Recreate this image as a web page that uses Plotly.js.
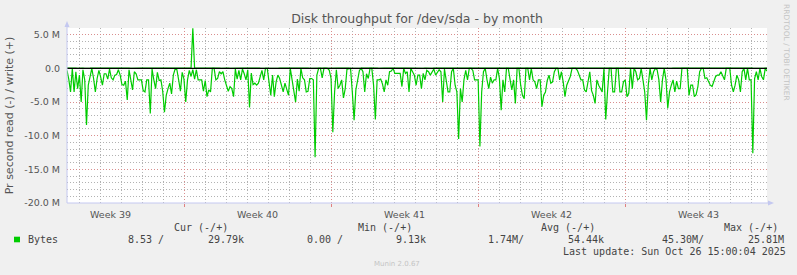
<!DOCTYPE html>
<html>
<head>
<meta charset="utf-8">
<script src="https://cdn.plot.ly/plotly-3.0.1.min.js"></script>
<style>html,body{margin:0;padding:0;background:#f0f0f0;}#chart{width:797px;height:275px;}</style>
</head>
<body>
<div id="chart"></div>
<script>
// ---- data (values in millions of bytes per second) ----
const rangeStart = '2025-09-23 10:15';
const rangeEnd = '2025-10-26 18:15';
const readValues = [
-0.3,-1.6,-3.5,0,-3.5,-0.5,-3.0,-1.0,-5.0,-0.2,
-1.7,-8.4,-2.5,-1.0,0,-1.5,-3.5,-1.5,-0.3,-1.3,
-2.5,-0.8,-0.8,-1.6,-0.1,-1.4,-1.7,-1.0,-0.9,-0.2,
-1.0,-2.4,-2.5,-1.9,-4.7,-0.2,-1.5,-3.2,-0.5,-0.8,
-1.7,-1.7,-1.7,-3.3,-3.5,-1.7,-1.7,-6.7,-0.1,-1.7,
-3.0,-0.6,-1.8,-1.7,-3.4,-6.5,-4.0,-3.0,-2.2,-3.8,
-1.0,-0.1,-0.2,-1.7,-3.4,-0.6,-1.6,-5.0,-1.7,-0.3,
-1.2,-0.2,-1.6,-0.2,-1.7,-1.7,-1.7,-3.4,-1.8,-4.2,
-3.2,
-3.5,0,0,-1.7,-1.5,-0.5,-0.8,-0.5,-1.7,-2.5,
-3.4,-2.7,-3.0,-4.2,-0.1,-1.6,-0.3,-1.7,-0.1,-0.8,
-1.7,-0.2,-5.8,-0.7,-2.4,-2.2,-2.5,-2.2,-1.2,-0.3,
-1.7,0,0,-1.7,-4.0,-1.0,-4.2,-2.0,-1.0,-1.5,
-2.5,-3.5,-2.2,-3.0,-4.0,0,-1.7,-3.3,-5.0,-1.6,
-3.4,0,-1.4,-1.7,-3.5,-3.4,-1.5,-1.5,-1.7,-13.2,
-1.0,0,0,-1.4,0,0,0,-0.3,-1.5,-9.5,
-3.5,-0.2,-3.0,-2.5,-1.7,-4.4,-3.0,-0.1,0,
0,-3.5,-7.7,-3.2,-1.7,-0.3,0,-0.5,-3.5,-0.8,
-1.5,0,0,-2.5,-7.6,-1.7,-1.7,-1.6,-2.3,-3.5,
-1.7,-2.5,-0.5,-0.4,0,-0.75,-0.75,-0.75,-0.75,-2.7,
0,-0.75,-0.5,-3.5,0,-0.5,-1.0,-2.5,-1.0,-1.0,
-3.0,-0.75,-1.7,-0.3,-0.5,-1.0,-0.5,-0.1,-1.0,-0.5,
-0.2,-0.5,-5.0,-0.1,-1.5,-3.5,-3.5,-0.5,0,-2.5,
-3.5,-10.5,-3.0,-5.0,-1.7,-0.3,-1.7,0,0,-0.3,
-1.7,-1.7,-1.7,-11.6,-3.5,-0.5,0,-1.7,-3.0,
-1.3,-2.2,-1.7,-1.7,0,-1.5,-6.2,-1.7,-3.5,0,
0,-1.9,-3.2,-1.7,-5.2,0,0,-2.5,-4.0,-4.5,
0,0,-1.7,0,-1.7,-2.0,-3.0,-1.7,-1.7,-5.7,
-4.0,-3.5,-1.8,-1.0,-2.2,-2.0,-0.5,0,0,-1.7,
-0.5,-2.0,-4.2,-2.5,-1.8,-1.2,0,0,0,-0.3,
-1.0,-1.7,-1.7,-3.2,-3.5,-2.2,-0.5,-3.3,-4.0,-5.2,
-1.7,-2.5,-3.0,-3.5,0,-7.6,-3.5,0,0,-3.5,
-3.5,0,0,-3.5,-3.5,-2.0,-1.7,-4.2,-3.7,
0,-3.0,0,-0.5,-1.7,-1.5,0,-1.7,-3.5,-7.7,
-2.5,0,-1.7,-0.5,0,-0.2,-1.7,-5.0,-1.7,0,
-1.7,-5.9,-3.5,-2.5,-1.7,-3.5,-1.9,-3.0,-3.0,0,
0,0,0,-4.0,-2.5,-2.5,-4.2,-3.9,-2.7,-0.5,
0,0,-1.5,-1.4,-2.0,-2.5,-2.7,-1.8,-1.2,-1.0,
-1.0,-0.5,-1.2,-1.7,0,0,0,-2.5,-3.5,-2.5,
-1.0,-1.7,-3.5,-0.5,0,-1.7,0,-1.7,-1.7,-12.6,
-1.5,-0.5,-1.7,0,-1.2,-1.7,0,-0.4
];
const writeValues = [
0.03,0.05,0.02,0.04,0.06,0.03,0.02,0.05,0.04,0.03,0.02,0.06,0.04,0.03,0.05,0.02,0.03,0.04,0.06,0.03,
0.04,0.02,0.05,0.03,0.04,0.06,0.02,0.03,0.05,0.04,0.03,0.02,0.04,0.05,0.03,0.06,0.02,0.04,0.03,0.05,
0.02,0.04,0.06,0.03,0.05,0.02,0.03,0.04,0.02,0.05,0.06,0.03,0.04,0.02,0.03,0.05,0.04,0.06,0.02,0.03,
0.03,0.04,0.02,0.05,0.03,0.04,0.06,0.02,0.03,0.05,0.04,5.95,0.05,0.03,0.02,0.04,0.06,0.03,0.05,0.02,
0.04,0.03,0.05,0.02,0.06,0.04,0.03,0.02,0.05,0.04,0.03,0.06,0.02,0.04,0.05,0.03,0.02,0.04,0.03,0.06,
0.05,0.02,0.03,0.04,0.06,0.03,0.05,0.02,0.04,0.03,0.02,0.05,0.06,0.03,0.04,0.02,0.05,0.03,0.04,0.02,
0.03,0.06,0.04,0.02,0.05,0.03,0.04,0.06,0.02,0.03,0.05,0.04,0.02,0.03,0.06,0.04,0.05,0.02,0.03,0.04,
0.06,0.03,0.02,0.05,0.04,0.03,0.06,0.02,0.04,0.05,0.03,0.02,0.04,0.06,0.03,0.05,0.02,0.04,0.03,0.05,
0.02,0.04,0.03,0.06,0.05,0.02,0.03,0.04,0.05,0.03,0.06,0.02,0.04,0.03,0.05,0.04,0.02,0.06,0.03,0.04,
0.05,0.03,0.04,0.02,0.06,0.04,0.03,0.05,0.02,0.04,0.03,0.06,0.05,0.02,0.03,0.04,0.06,0.03,0.02,0.05,
0.04,0.02,0.06,0.03,0.05,0.04,0.02,0.03,0.06,0.05,0.04,0.03,0.02,0.05,0.04,0.06,0.03,0.02,0.04,0.05,
0.03,0.05,0.02,0.04,0.03,0.06,0.04,0.02,0.05,0.03,0.04,0.06,0.03,0.02,0.05,0.04,0.03,0.06,0.02,0.04,
0.06,0.04,0.03,0.05,0.02,0.03,0.05,0.04,0.06,0.02,0.03,0.04,0.05,0.06,0.02,0.03,0.04,0.05,0.03,0.02,
0.02,0.03,0.05,0.04,0.06,0.02,0.04,0.03,0.05,0.06,0.02,0.04,0.03,0.05,0.02,0.06,0.04,0.03,0.05,0.04,
0.05,0.06,0.02,0.03,0.04,0.05,0.03,0.06,0.02,0.04,0.05,0.03,0.02,0.04,0.06,0.03,0.05,0.04,0.02,0.03,
0.04,0.03,0.06,0.05,0.02,0.04,0.03,0.02,0.05,0.06,0.04,0.03,0.05,0.02,0.04,0.03,0.06,0.05,0.04,0.02,
0.03,0.05,0.04,0.02,0.03,0.06,0.05,0.04,0.03,0.02,0.06,0.05,0.04,0.03,0.02,0.05,0.03,0.04,0.06,0.03,
0.06,0.02,0.05,0.04,0.03,0.02,0.04,0.06,0.05,0.03,0.04,0.02,0.03,0.05,0.06,0.04,0.02,0.03,0.05,0.04,
0.02,0.04,0.03,0.05,0.06,0.04,0.02,0.05,0.03,0.04,0.06,0.02,0.05,0.03,0.04,0.02,0.06,0.03,0.05,0.04,
0.03,0.05,0.06,0.02,0.04,0.03,0.05,0.04,0.02,0.06,0.03,0.04,0.05,0.02,0.03,0.04
];
const weekStarts = ['2025-09-29', '2025-10-06', '2025-10-13', '2025-10-20'];
const weekLabelDates = ['2025-09-25 12:00', '2025-10-02 12:00', '2025-10-09 12:00', '2025-10-16 12:00', '2025-10-23 12:00'];
const weekLabels = ['Week 39', 'Week 40', 'Week 41', 'Week 42', 'Week 43'];
const yTickVals = [-20, -15, -10, -5, 0, 5];
const yTickText = ['-20.0 M', '-15.0 M', '-10.0 M', '-5.0 M', '0.0', '5.0 M'];
const legendHeaders = ['Cur (-/+)', 'Min (-/+)', 'Avg (-/+)', 'Max (-/+)'];
const seriesName = 'Bytes';
const legendValues = ['8.53 /', '29.79k', '0.00 /', '9.13k', '1.74M/', '54.44k', '45.30M/', '25.81M'];
const lastUpdate = 'Last update: Sun Oct 26 15:00:04 2025';

// ---- time stamps for samples (evenly spaced over the graph period) ----
function toMs(s) { const [d, t] = s.split(' '); const [Y, M, D] = d.split('-').map(Number); const [h, m] = (t || '00:00').split(':').map(Number); return Date.UTC(Y, M - 1, D, h, m); }
const t0 = toMs(rangeStart), t1 = toMs(rangeEnd);
const step = (t1 - t0) / (readValues.length - 1);
const times = readValues.map((_, i) => t0 + i * step);

// ---- layout helpers (pixel -> paper) ----
const L = 67, R = 767, T = 28, B = 203;
const P = px => (px - L) / (R - L);
const Q = py => (B - py) / (B - T);

const green = '#00cc00';
const mono = 'DejaVu Sans Mono';
const textCol = '#444';

const annotations = [];
const headerX = [173, 357, 540, 723];
legendHeaders.forEach((h, i) => annotations.push({text: h, x: P(headerX[i]), y: Q(227.7)}));
annotations.push({text: seriesName, x: P(27), y: Q(239.5)});
const valueX = [127, 207, 306, 395, 487, 567, 661, 747];
legendValues.forEach((v, i) => annotations.push({text: v, x: P(valueX[i]), y: Q(239.5)}));
annotations.push({text: lastUpdate, x: P(562), y: Q(251.7)});
annotations.forEach(a => Object.assign(a, {xref: 'paper', yref: 'paper', xanchor: 'left', yanchor: 'middle', showarrow: false, borderpad: 0, font: {family: mono, size: 10, color: textCol}}));
annotations.push({text: 'Munin 2.0.67', xref: 'paper', yref: 'paper', x: P(373), y: Q(264), xanchor: 'left', yanchor: 'middle', showarrow: false, borderpad: 0, font: {family: 'DejaVu Sans', size: 7, color: '#c4c4c4'}});
annotations.push({text: 'RRDTOOL / TOBI OETIKER', xref: 'paper', yref: 'paper', x: P(787), y: Q(53), xanchor: 'center', yanchor: 'middle', textangle: 90, showarrow: false, borderpad: 0, font: {family: 'DejaVu Sans', size: 7.5, color: '#c4c4c4'}});

const axisCol = '#c4c8f0';
const shapes = [
  {type: 'line', xref: 'paper', yref: 'y', x0: 0, x1: 1, y0: 0, y1: 0, line: {color: '#000', width: 1.2}, layer: 'above'},
  {type: 'line', xref: 'paper', yref: 'paper', x0: P(67), x1: P(67), y0: Q(203), y1: Q(24), line: {color: axisCol, width: 1}},
  {type: 'line', xref: 'paper', yref: 'paper', x0: P(67), x1: P(770), y0: Q(203), y1: Q(203), line: {color: axisCol, width: 1}},
  {type: 'path', xref: 'paper', yref: 'paper', path: `M ${P(64.5)} ${Q(27)} L ${P(69.5)} ${Q(27)} L ${P(67)} ${Q(21)} Z`, fillcolor: axisCol, line: {width: 0}},
  {type: 'path', xref: 'paper', yref: 'paper', path: `M ${P(768)} ${Q(200.5)} L ${P(768)} ${Q(205.5)} L ${P(774)} ${Q(203)} Z`, fillcolor: axisCol, line: {width: 0}},
  {type: 'rect', xref: 'paper', yref: 'paper', x0: P(14), x1: P(20), y0: Q(242.3), y1: Q(236.7), fillcolor: green, line: {width: 0}}
];

const majorGrid = 'rgba(230,130,130,0.75)';
const minorGrid = 'rgba(165,165,165,0.85)';
const dotPattern = '1px,2px';

const data = [
  {x: times, y: readValues, type: 'scatter', mode: 'lines', line: {color: green, width: 1.2}, xaxis: 'x', yaxis: 'y', hoverinfo: 'skip'},
  {x: times, y: writeValues, type: 'scatter', mode: 'lines', line: {color: green, width: 1.2}, xaxis: 'x2', yaxis: 'y', hoverinfo: 'skip'}
];

const layout = {
  width: 797, height: 275,
  paper_bgcolor: '#f0f0f0', plot_bgcolor: '#ffffff',
  margin: {l: L, r: 797 - R, t: T, b: 275 - B, pad: 0},
  showlegend: false,
  font: {family: 'DejaVu Sans', color: '#555'},
  title: {text: 'Disk throughput for /dev/sda - by month', x: 0.5, xref: 'paper', xanchor: 'center', y: 1 - 19 / 275, yref: 'container', yanchor: 'middle', font: {family: 'DejaVu Sans', size: 12.5, color: '#555'}},
  xaxis: {
    type: 'date', range: [t0, t1], tickvals: weekStarts, showticklabels: false,
    showgrid: true, gridcolor: majorGrid, griddash: dotPattern, gridwidth: 1,
    ticks: 'outside', ticklen: 3, tickcolor: '#e08080', showline: false, zeroline: false,
    minor: {dtick: 86400000, tick0: '2025-09-22', showgrid: true, gridcolor: minorGrid, griddash: dotPattern, gridwidth: 1, ticks: ''}
  },
  xaxis2: {
    type: 'date', overlaying: 'x', matches: 'x', anchor: 'y', side: 'bottom',
    tickvals: weekLabelDates, ticktext: weekLabels, showgrid: false, ticks: '',
    ticklabelstandoff: 4, tickfont: {family: 'DejaVu Sans', size: 9.5, color: '#555'}, showline: false, zeroline: false
  },
  yaxis: {
    range: [-20, 6], tickvals: yTickVals, ticktext: yTickText,
    showgrid: true, gridcolor: majorGrid, griddash: dotPattern, gridwidth: 1,
    minor: {dtick: 1, tick0: 0, showgrid: true, gridcolor: minorGrid, griddash: dotPattern, gridwidth: 1, ticks: ''},
    zeroline: false, showline: false, ticks: '', ticklabelstandoff: 6,
    tickfont: {family: 'DejaVu Sans', size: 9.5, color: '#555'},
    title: {text: 'Pr second read (-) / write (+)', standoff: 8, font: {family: 'DejaVu Sans', size: 11, color: '#555'}}
  },
  annotations: annotations,
  shapes: shapes
};

Plotly.newPlot('chart', data, layout, {staticPlot: true, displayModeBar: false});
</script>
</body>
</html>
